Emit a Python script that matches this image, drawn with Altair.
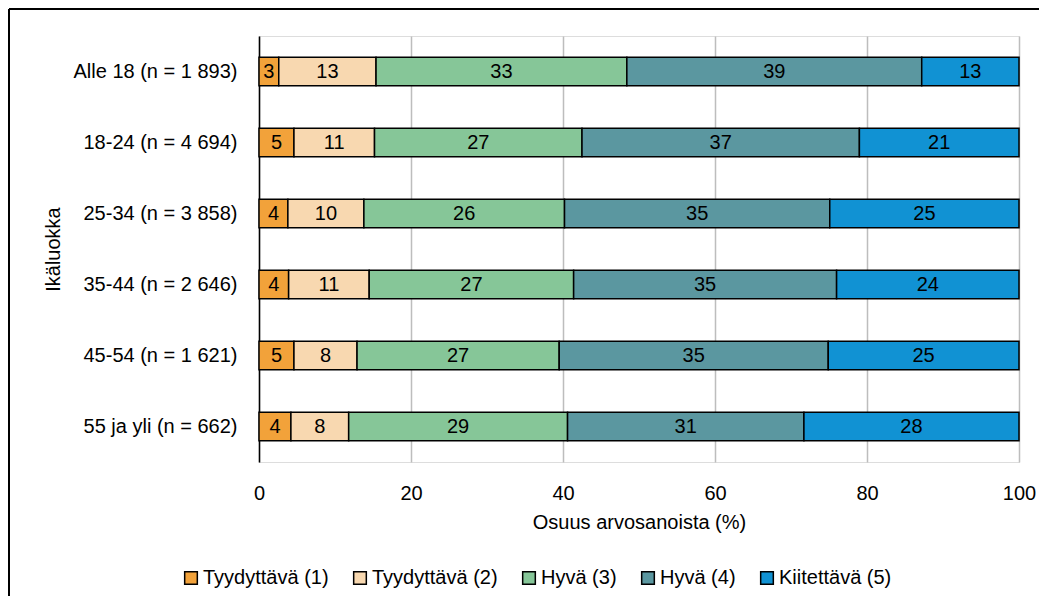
import altair as alt
import pandas as pd

ages = ["Alle 18 (n = 1 893)", "18-24 (n = 4 694)", "25-34 (n = 3 858)",
        "35-44 (n = 2 646)", "45-54 (n = 1 621)", "55 ja yli (n = 662)"]
grades = ["Tyydyttävä (1)", "Tyydyttävä (2)", "Hyvä (3)", "Hyvä (4)", "Kiitettävä (5)"]
colors = ["#F2A23A", "#F8D8B0", "#86C698", "#5B97A0", "#1192D3"]

g1 = [2.6, 4.6, 3.8, 3.9, 4.6, 4.2]
g2 = [12.8, 10.6, 10.0, 10.6, 8.3, 7.6]
g3 = [33.0, 27.3, 26.4, 26.9, 26.6, 28.8]
g4 = [38.8, 36.5, 34.9, 34.6, 35.4, 31.1]
g5 = [12.8, 21.0, 24.9, 24.0, 25.1, 28.3]
series = [g1, g2, g3, g4, g5]

rows = []
for k, (gname, vals) in enumerate(zip(grades, series)):
    for a, v in zip(ages, vals):
        rows.append({"age": a, "grade": gname, "k": k, "value": v})
df = pd.DataFrame(rows)

FONT = "Liberation Sans Narrow, Arial Narrow, Liberation Sans, sans-serif"
FS = 20

base = alt.Chart(df).transform_stack(
    stack="value", groupby=["age"], as_=["x0", "x1"], sort=[alt.SortField("k", order="ascending")]
).transform_calculate(mid="(datum.x0 + datum.x1) / 2")

y_enc = alt.Y("age:N", sort=ages,
              scale=alt.Scale(paddingInner=0.6, paddingOuter=0.3),
              axis=alt.Axis(title="Ikäluokka", ticks=False, domain=True, domainColor="black",
                            domainWidth=1.5, labelPadding=22, titlePadding=10,
                            labelFontSize=FS, titleFontSize=FS, labelColor="black",
                            titleColor="black", titleFontWeight="normal", labelFont=FONT,
                            titleFont=FONT, grid=False))

bars = base.mark_bar(stroke="black", strokeWidth=1.5).encode(
    x=alt.X("x0:Q", scale=alt.Scale(domain=[0, 100], nice=False),
            axis=alt.Axis(title="Osuus arvosanoista (%)", values=[0, 20, 40, 60, 80, 100],
                          ticks=False, domain=False, grid=True, gridColor="#BDBDBD",
                          gridWidth=1.5, labelPadding=21, titlePadding=9,
                          labelFontSize=FS, titleFontSize=FS, labelColor="black",
                          titleColor="black", titleFontWeight="normal", labelFont=FONT,
                          titleFont=FONT, labelFlush=False)),
    x2="x1:Q",
    y=y_enc,
    color=alt.Color("grade:N", sort=grades,
                    scale=alt.Scale(domain=grades, range=colors),
                    legend=alt.Legend(title=None, orient="none", direction="horizontal",
                                      legendX=-78, legendY=532, columns=5,
                                      symbolType="square", symbolSize=160,
                                      symbolStrokeColor="black", symbolStrokeWidth=1.5,
                                      labelFontSize=FS, labelFont=FONT, labelColor="black",
                                      labelOffset=2, columnPadding=21)),
    order=alt.Order("k:Q"),
)

labels = base.mark_text(fontSize=FS, font=FONT, color="black").encode(
    x=alt.X("mid:Q"),
    y=alt.Y("age:N", sort=ages),
    text=alt.Text("value:Q", format=".0f"),
)

frame_data = alt.Data(values=[{"f": 1}])
frame_left = alt.Chart(frame_data).mark_rule(color="black", strokeWidth=2).encode(
    x=alt.value(-250), y=alt.value(-27), y2=alt.value(560))
frame_top = alt.Chart(frame_data).mark_rule(color="black", strokeWidth=2).encode(
    x=alt.value(-250), x2=alt.value(780), y=alt.value(-27))

chart = alt.layer(bars, labels, frame_left, frame_top).properties(
    width=760, height=426, padding=0
).configure_view(stroke=None).configure(background="white")

chart.save("out.html", embed_options={"renderer": "svg", "actions": False})
